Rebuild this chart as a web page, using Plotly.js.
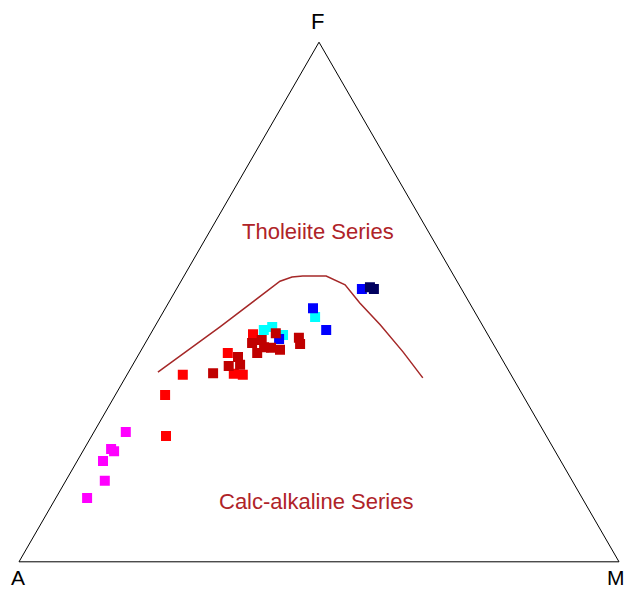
<!DOCTYPE html>
<html>
<head>
<meta charset="utf-8">
<script src="https://cdn.plot.ly/plotly-3.0.1.min.js"></script>
<style>
  html, body { margin: 0; padding: 0; background: #fff; }
  #afm { width: 628px; height: 590px; }
</style>
</head>
<body>
<div id="afm"></div>
<script>
// AFM diagram, values in % (F = FeO*, A = Na2O+K2O, M = MgO)

// Irvine & Baragar boundary
const lineF = [36.5, 45.2, 54.0, 54.8, 55.0, 55.0, 53.3, 49.8, 45.6, 40.4, 35.4];
const lineA = [58.6, 43.9, 29.5, 27.1, 25.2, 21.3, 19.0, 18.3, 17.0, 15.8, 15.0];
const lineM = [ 4.9, 10.9, 16.5, 18.1, 19.8, 23.7, 27.7, 31.9, 37.4, 43.8, 49.6];

// sample groups
const magentaF = [25.0, 21.7, 21.3, 19.4, 15.6, 12.3];
const magentaA = [69.7, 73.8, 73.5, 76.3, 77.9, 82.5];
const magentaM = [ 5.3,  4.5,  5.2,  4.3,  6.5,  5.2];

const redF = [32.1, 24.2, 36.0, 40.2, 36.2, 36.0, 43.8];
const redA = [59.6, 63.4, 54.7, 45.1, 46.1, 44.7, 39.1];
const redM = [ 8.3, 12.4,  9.3, 14.7, 17.7, 19.3, 17.1];

const darkRedF = [36.3, 39.4, 37.7, 37.9, 42.1, 40.2, 41.3, 41.2, 44.0, 40.8, 43.1, 41.9, 42.7];
const darkRedA = [49.5, 43.8, 46.2, 44.2, 40.1, 40.2, 38.5, 37.4, 35.2, 36.1, 31.8, 32.2, 38.2];
const darkRedM = [14.2, 16.8, 16.1, 17.9, 17.8, 19.6, 20.2, 21.4, 20.8, 23.1, 25.1, 25.9, 19.1];

const cyanF = [44.6, 45.2, 43.7, 47.1];
const cyanA = [36.9, 35.2, 34.2, 27.1];
const cyanM = [18.5, 19.6, 22.2, 25.8];

const blueF = [42.9, 48.8, 44.6, 52.5];
const blueA = [35.2, 26.6, 26.5, 16.6];
const blueM = [21.9, 24.6, 28.9, 30.9];

const navyF = [52.9, 52.5];
const navyA = [15.1, 14.6];
const navyM = [32.1, 32.9];

const vertexNames = ['F', 'A', 'M'];
const seriesNames = ['Tholeiite Series', 'Calc-alkaline Series'];

const labelColor = 'rgb(175,35,40)';
const fontFam = 'Arial, Liberation Sans, sans-serif';

function group(F, A, M, color) {
  return {
    type: 'scatterternary', mode: 'markers',
    a: F, b: A, c: M,
    marker: { symbol: 'square', size: 10, color: color, line: { width: 0 } },
    hoverinfo: 'skip'
  };
}

const data = [
  {
    type: 'scatterternary', mode: 'lines',
    a: lineF, b: lineA, c: lineM,
    line: { color: 'rgb(165,40,40)', width: 1.5 },
    hoverinfo: 'skip'
  },
  group(magentaF, magentaA, magentaM, '#ff00ff'),
  group(cyanF, cyanA, cyanM, '#00ffff'),
  group(blueF, blueA, blueM, '#0000ff'),
  group(redF, redA, redM, '#ff0000'),
  group(darkRedF, darkRedA, darkRedM, '#c00000'),
  group(navyF, navyA, navyM, '#00005e')
];

function axis() {
  return {
    title: { text: '' },
    showticklabels: false, ticks: '', showgrid: false,
    linecolor: '#000', linewidth: 1, min: 0
  };
}

function label(text, x, y, color, size) {
  return {
    text: text, xref: 'paper', yref: 'paper', x: x, y: y,
    xanchor: 'center', yanchor: 'middle', showarrow: false,
    font: { family: fontFam, size: size, color: color }
  };
}

const layout = {
  width: 628, height: 590,
  margin: { l: 19, r: 9, t: 42, b: 28 },
  paper_bgcolor: '#fff',
  showlegend: false,
  hovermode: false,
  ternary: {
    sum: 100,
    bgcolor: '#fff',
    domain: { x: [0, 1], y: [0, 1] },
    aaxis: axis(),
    baxis: axis(),
    caxis: axis()
  },
  annotations: [
    label(vertexNames[0], 0.498, 1.04, '#000', 22),
    label(vertexNames[1], -0.002, -0.029, '#000', 21),
    label(vertexNames[2], 0.995, -0.029, '#000', 21),
    label(seriesNames[0], 0.498, 0.635, labelColor, 22),
    label(seriesNames[1], 0.495, 0.117, labelColor, 22)
  ]
};

Plotly.newPlot('afm', data, layout, { staticPlot: true, displayModeBar: false });
</script>
</body>
</html>
